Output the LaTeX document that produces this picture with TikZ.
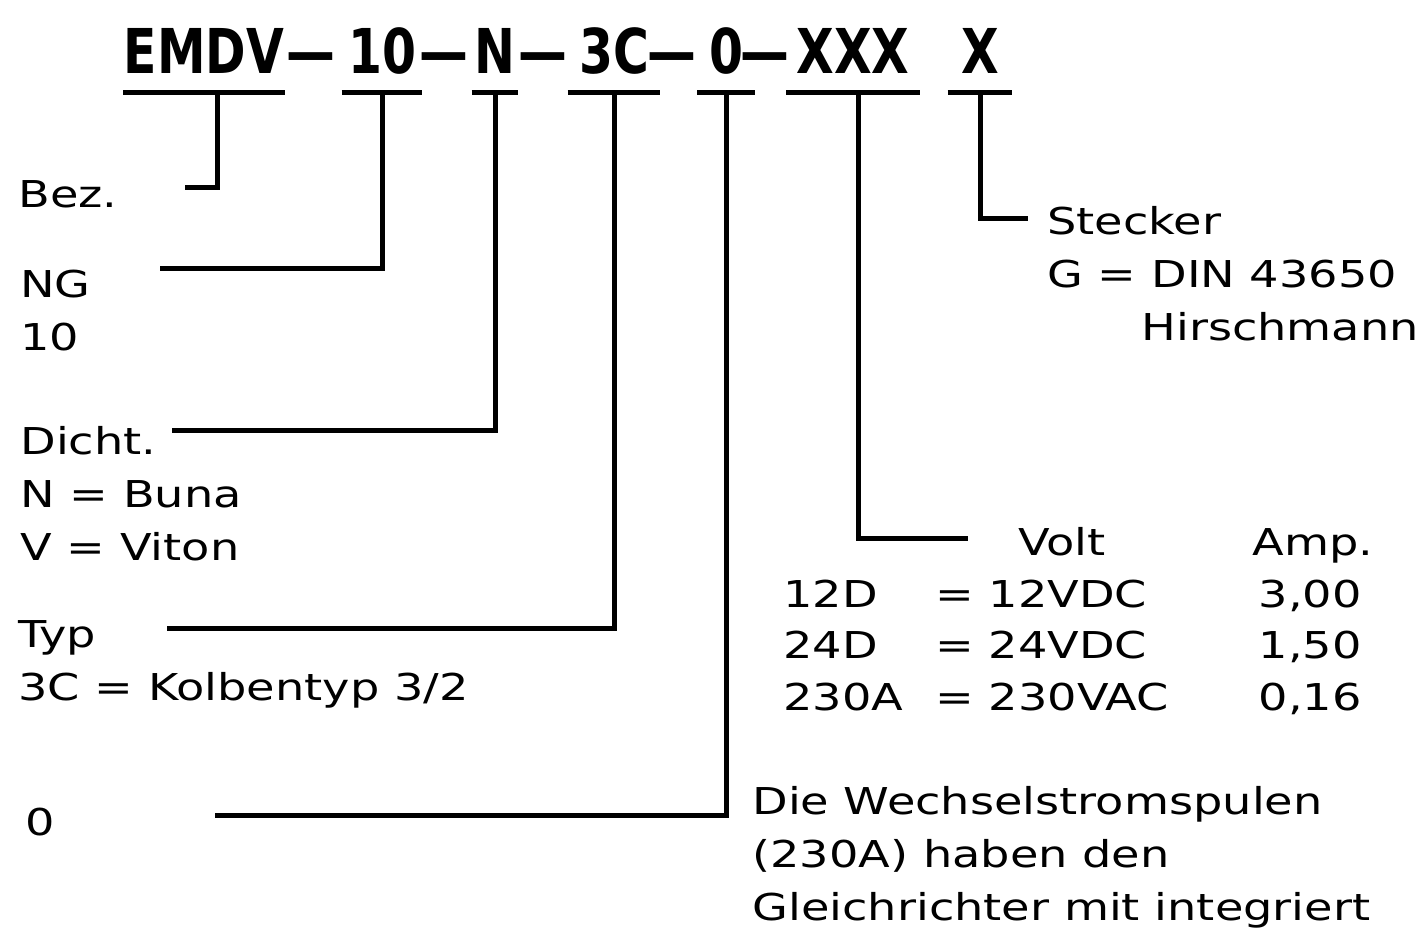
\documentclass[tikz,border=0pt]{standalone}
\usepackage{fontspec}
\setmainfont[FakeStretch=1.25]{DejaVu Sans}
\newfontfamily\codefont[FakeStretch=0.79]{DejaVu Sans}
\usetikzlibrary{positioning}

\begin{document}
\begin{tikzpicture}[x=0.5pt,y=-0.5pt,
	part/.style={font=\codefont\bfseries\fontsize{30.9}{34}\selectfont,
				inner sep=0pt,
				text depth=9.5pt,
				anchor=base},
	hyph/.style={font=\codefont\bfseries\fontsize{30.9}{34}\selectfont,
				inner sep=0pt,
				anchor=base},
	lbl/.style={font=\fontsize{18.5}{26.5}\selectfont,
				inner sep=0pt,
				anchor=base west,
				align=left},
	lead/.style={draw=black, line width=2.5pt},
	uline/.style={draw=black, line width=2.5pt}]
		\useasboundingbox[fill=white] (0,0) rectangle (1422,927);
		\node[part,minimum width=79pt] (emdv) at (204,73) {EMDV};
		\node[hyph] (h1) at (311,73) {—};
		\node[part,minimum width=40pt] (p10) at (382,73) {10};
		\node[hyph] (h2) at (444,73) {—};
		\node[part,minimum width=23pt] (pn) at (495,73) {N};
		\node[hyph] (h3) at (543,73) {—};
		\node[part,minimum width=46pt] (p3c) at (614,73) {3C};
		\node[hyph] (h4) at (672,73) {—};
		\node[part,minimum width=28.5pt] (p0) at (726,73) {0};
		\node[hyph] (h5) at (765,73) {—};
		\node[part,minimum width=66.5pt] (pxxx) at (853,73) {XXX};
		\node[part,minimum width=32pt] (px) at (980,73) {X};
		\draw[uline] (emdv.south west) -- (emdv.south east);
		\draw[uline] (p10.south west) -- (p10.south east);
		\draw[uline] (pn.south west) -- (pn.south east);
		\draw[uline] (p3c.south west) -- (p3c.south east);
		\draw[uline] (p0.south west) -- (p0.south east);
		\draw[uline] (pxxx.south west) -- (pxxx.south east);
		\draw[uline] (px.south west) -- (px.south east);
		\node[lbl] (bez) at (18,207) {Bez.};
		\node[lbl] (ng) at (20,350) {NG\\10};
		\node[lbl] (dicht) at (20,560) {Dicht.\\N = Buna\\V = Viton};
		\node[lbl] (typ) at (18,700) {Typ\\3C = Kolbentyp 3/2};
		\node[lbl] (null) at (25,835) {0};
		\node[lbl] (stecker) at (1047,340) {Stecker\\G = DIN 43650\\\hspace*{47pt}Hirschmann};
		\node[lbl] (volt) at (1018,555) {Volt};
		\node[lbl] (amp) at (1252,555) {Amp.};
		\node[lbl] (c12) at (783,607) {12D};
		\node[lbl] (v12) at (935,607) {= 12VDC};
		\node[lbl,anchor=base east] (a12) at (1362,607) {3,00};
		\node[lbl] (c24) at (783,658) {24D};
		\node[lbl] (v24) at (935,658) {= 24VDC};
		\node[lbl,anchor=base east] (a24) at (1362,658) {1,50};
		\node[lbl] (c230) at (783,710) {230A};
		\node[lbl] (v230) at (935,710) {= 230VAC};
		\node[lbl,anchor=base east] (a230) at (1362,710) {0,16};
		\node[lbl] (note) at (752,920) {Die Wechselstromspulen\\(230A) haben den\\Gleichrichter mit integriert};
		\coordinate (bezend) at (185,187);
		\coordinate (ngend) at (160,268);
		\coordinate (dichtend) at (172,430);
		\coordinate (typend) at (167,628);
		\coordinate (nullend) at (215,815);
		\coordinate (voltend) at (968,538);
		\coordinate (steckerend) at (1028,218);
		\draw[lead] ([xshift=6.5pt]emdv.south) |- (bezend);
		\draw[lead] (p10.south) |- (ngend);
		\draw[lead] (pn.south) |- (dichtend);
		\draw[lead] (p3c.south) |- (typend);
		\draw[lead] (p0.south) |- (nullend);
		\draw[lead] ([xshift=2.5pt]pxxx.south) |- (voltend);
		\draw[lead] (px.south) |- (steckerend);
\end{tikzpicture}
\end{document}
